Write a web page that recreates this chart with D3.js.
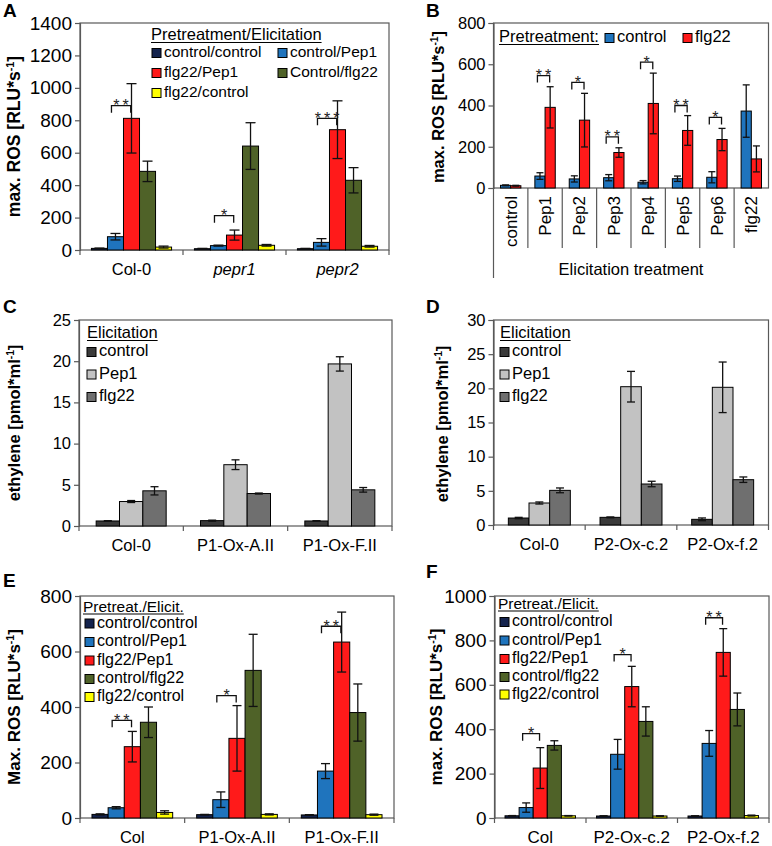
<!DOCTYPE html>
<html><head><meta charset="utf-8">
<script src="https://cdn.jsdelivr.net/npm/d3@7"></script>
<style>body{margin:0;background:#fff}svg{display:block}</style>
</head><body><svg id="c" width="772" height="846"></svg>
<script>
// ---------------- DATA ----------------
const rosSeriesA = ["control/control","control/Pep1","flg22/Pep1","Control/flg22","flg22/control"];
const rosSeriesEF = ["control/control","control/Pep1","flg22/Pep1","control/flg22","flg22/control"];
const rosColors = ["#14234d","#1f74bd","#ff1a1a","#4f6228","#ffff00"];

const catsA = ["Col-0","pepr1","pepr2"];
const valsA = [[10,82,812,485,18],[8,27,92,641,29],[8,47,742,430,23]];
const errA  = [[2,20,214,63,6],[2,3,31,144,5],[2,23,178,78,5]];
const sigA  = [[0,"**",890],[1,"*",212],[2,"***",812]];
const ticksA = [0,200,400,600,800,1000,1200,1400];

const catsB = ["control","Pep1","Pep2","Pep3","Pep4","Pep5","Pep6","flg22"];
const seriesB = ["control","flg22"];
const colorsB = ["#1f74bd","#ff1a1a"];
const ctrlB = [13,58,44,50,28,45,52,373];
const ctrlErrB = [2,16,15,15,8,13,27,127];
const flgB = [11,391,329,172,410,279,235,141];
const flgErrB = [2,100,130,23,147,72,54,63];
const sigB = [[1,"**",545],[2,"*",512],[3,"**",248],[4,"*",610],[5,"**",400],[6,"*",342]];
const ticksB = [0,200,400,600,800];

const ethSeries = ["control","Pep1","flg22"];
const ethColors = ["#3a3a3a","#c2c2c2","#6f6f6f"];
const catsC = ["Col-0","P1-Ox-A.II","P1-Ox-F.II"];
const valsC = [[0.61,2.97,4.27],[0.65,7.44,3.94],[0.61,19.67,4.39]];
const errC  = [[0.04,0.12,0.5],[0.06,0.59,0.06],[0.04,0.87,0.28]];
const ticksC = [0,5,10,15,20,25];
const catsD = ["Col-0","P2-Ox-c.2","P2-Ox-f.2"];
const valsD = [[1.02,3.22,5.07],[1.12,20.24,6.0],[0.83,20.15,6.63]];
const errD  = [[0.1,0.15,0.35],[0.06,2.24,0.4],[0.2,3.7,0.4]];
const ticksD = [0,5,10,15,20,25,30];

const catsE = ["Col","P1-Ox-A.II","P1-Ox-F.II"];
const valsE = [[13,37,257,345,20],[12,66,287,532,13],[11,169,634,380,12]];
const errE  = [[2,4,55,55,6],[1,28,118,130,2],[1,27,108,103,2]];
const sigE  = [[0,"**",352],[1,"*",441],[2,"**",691]];
const ticksE = [0,200,400,600,800];

const catsF = ["Col","P2-Ox-c.2","P2-Ox-f.2"];
const valsF = [[10,47,225,327,10],[9,287,592,435,9],[9,336,746,489,11]];
const errF  = [[1,21,92,21,1],[1,67,91,66,1],[1,58,107,74,2]];
const sigF  = [[0,"*",380],[1,"*",736],[2,"**",902]];
const ticksF = [0,200,400,600,800,1000];

// ---------------- DRAWING ----------------
const FONT = '"Liberation Sans", Arial, Helvetica, sans-serif';
const AX = "#595959";
const svg = d3.select("#c");

function yTitle(x, cy, main, after, fs){
  const t = svg.append("text").attr("transform",`translate(${x},${cy}) rotate(-90)`)
    .attr("text-anchor","middle").attr("font-family",FONT).attr("font-weight","bold").attr("font-size",fs).attr("fill","#000");
  t.append("tspan").text(main);
  t.append("tspan").attr("font-size",fs*0.62).attr("dy",-6).text("-1");
  t.append("tspan").attr("font-size",fs).attr("dy",6).text(after);
}
function letter(l,x,y){
  svg.append("text").attr("x",x).attr("y",y).attr("font-family",FONT).attr("font-weight","bold").attr("font-size",19).text(l);
}

function drawPanel(p){
  const g = svg.append("g");
  const x0 = d3.scaleBand().domain(p.cats).range([p.left,p.right]);
  const gw = x0.bandwidth()*p.groupFrac;
  const off = (x0.bandwidth()-gw)/2;
  const x1 = d3.scaleBand().domain(p.series).range([0,gw]);
  const y = d3.scaleLinear().domain([0,p.yMax]).range([p.bottom,p.top]);
  const bw = x1.bandwidth();
  const cfs = p.catFs || 16.5;
  g.append("rect").attr("x",p.left).attr("y",p.top).attr("width",p.right-p.left).attr("height",p.bottom-p.top)
    .attr("fill","none").attr("stroke",AX).attr("stroke-width",1.2);
  const ya = g.append("g").attr("transform",`translate(${p.left},0)`)
    .call(d3.axisLeft(y).tickValues(p.ticks).tickSize(5).tickPadding(3).tickFormat(d3.format("d")));
  ya.select(".domain").attr("stroke",AX).attr("stroke-width",1.2);
  ya.selectAll(".tick line").attr("stroke",AX).attr("stroke-width",1.2);
  ya.selectAll(".tick text").attr("font-size",p.tickFs).attr("font-family",FONT).attr("fill","#000");
  const bounds = p.cats.map(c=>x0(c)).concat([p.right]);
  if(!p.rotated){
    bounds.forEach(bx=>g.append("line").attr("x1",bx).attr("x2",bx).attr("y1",p.bottom).attr("y2",p.bottom+5).attr("stroke",AX).attr("stroke-width",1.2));
    p.cats.forEach((c,i)=>{
      g.append("text").attr("x",x0(c)+x0.bandwidth()/2).attr("y",p.bottom+25).attr("text-anchor","middle")
        .attr("font-family",FONT).attr("font-size",cfs).attr("font-style",p.italic && p.italic[i]?"italic":"normal").text(c);
    });
  } else {
    bounds.slice(1,-1).forEach(bx=>g.append("line").attr("x1",bx).attr("x2",bx).attr("y1",p.bottom).attr("y2",p.sepBottom).attr("stroke",AX).attr("stroke-width",1.2));
    g.append("line").attr("x1",p.left).attr("x2",p.left).attr("y1",p.bottom).attr("y2",p.outerBottom).attr("stroke",AX).attr("stroke-width",1.2);
    p.cats.forEach((c)=>{
      const cx = x0(c)+x0.bandwidth()/2+6;
      g.append("text").attr("transform",`translate(${cx},${p.bottom+8}) rotate(-90)`).attr("text-anchor","end")
        .attr("font-family",FONT).attr("font-size",17).text(c);
    });
    g.append("text").attr("x",(p.left+p.right)/2).attr("y",p.outerBottom-3).attr("text-anchor","middle")
      .attr("font-family",FONT).attr("font-size",16.5).text(p.outerLabel);
  }
  p.cats.forEach((c,i)=>{
    p.series.forEach((s,j)=>{
      const v = p.vals[i][j], e = p.errs[i][j];
      const bx = x0(c)+off+x1(s);
      g.append("rect").attr("x",bx).attr("y",y(v)).attr("width",bw).attr("height",y(0)-y(v))
        .attr("fill",p.colors[j]).attr("stroke","#000").attr("stroke-width",1);
      const cx = bx+bw/2, cw = p.capW/2;
      const eg = g.append("g").attr("stroke","#111").attr("stroke-width",1.3);
      eg.append("line").attr("x1",cx).attr("x2",cx).attr("y1",y(v+e)).attr("y2",y(Math.max(0,v-e)));
      eg.append("line").attr("x1",cx-cw).attr("x2",cx+cw).attr("y1",y(v+e)).attr("y2",y(v+e));
      eg.append("line").attr("x1",cx-cw).attr("x2",cx+cw).attr("y1",y(Math.max(0,v-e))).attr("y2",y(Math.max(0,v-e)));
    });
  });
  (p.sig||[]).forEach(([ci,lab,lev])=>{
    const c = p.cats[ci];
    const xa = x0(c)+off+x1(p.series[p.sigPair[0]])+bw*0.25;
    const xb = x0(c)+off+x1(p.series[p.sigPair[1]])+bw*0.45;
    const yy = y(lev);
    g.append("path").attr("d",`M${xa},${yy+7}V${yy}H${xb}V${yy+7}`).attr("fill","none").attr("stroke","#111").attr("stroke-width",1.3);
    g.append("text").attr("x",(xa+xb)/2+1.5).attr("y",yy+5.5).attr("text-anchor","middle").attr("letter-spacing",3)
      .attr("font-family",FONT).attr("font-size",16).attr("fill","#222").text(lab);
  });
}

function legendTitle(txt,x,y,fs){
  const t = svg.append("text").attr("x",x).attr("y",y).attr("font-family",FONT).attr("font-size",fs).text(txt);
  const w = t.node().getComputedTextLength();
  svg.append("line").attr("x1",x).attr("x2",x+w).attr("y1",y+2.5).attr("y2",y+2.5).attr("stroke","#000").attr("stroke-width",1.1);
}
function legendItem(txt,color,x,y,fs,sq){
  svg.append("rect").attr("x",x).attr("y",y-sq+0.5).attr("width",sq).attr("height",sq).attr("fill",color).attr("stroke","#000").attr("stroke-width",1);
  svg.append("text").attr("x",x+sq+3).attr("y",y).attr("font-family",FONT).attr("font-size",fs).text(txt);
}

// Panel A
drawPanel({left:80,right:389,top:23,bottom:250,yMax:1400,ticks:ticksA,tickFs:19,cats:catsA,series:rosSeriesA,colors:rosColors,
  vals:valsA,errs:errA,groupFrac:0.778,capW:10,sig:sigA,sigPair:[1,2],italic:[false,true,true],catFs:16.5});
letter("A",3,17);
yTitle(20,136.5,"max. ROS [RLU*s","]",17.5);
legendTitle("Pretreatment/Elicitation",151,40,16.5);
[[0,152,57],[1,278,57],[2,152,77],[3,278,77],[4,152,97]].forEach(([k,x,y])=>legendItem(rosSeriesA[k],rosColors[k],x,y,15.5,9));

// Panel B
const valsB = catsB.map((c,i)=>[ctrlB[i],flgB[i]]);
const errsB = catsB.map((c,i)=>[ctrlErrB[i],flgErrB[i]]);
drawPanel({left:493.5,right:768.5,top:23,bottom:188,yMax:800,ticks:ticksB,tickFs:16.5,cats:catsB,series:seriesB,colors:colorsB,
  vals:valsB,errs:errsB,groupFrac:0.593,capW:7,sig:sigB,sigPair:[0,1],rotated:true,sepBottom:248,outerBottom:278,outerLabel:"Elicitation treatment"});
letter("B",426,17);
yTitle(444,107,"max. ROS [RLU*s","]",16.5);
legendTitle("Pretreatment:",499,42,16.5);
legendItem("control",colorsB[0],605,42,16.5,9);
legendItem("flg22",colorsB[1],683,42,16.5,9);

// Panel C
drawPanel({left:79,right:392,top:320,bottom:526,yMax:25,ticks:ticksC,tickFs:16.5,cats:catsC,series:ethSeries,colors:ethColors,
  vals:valsC,errs:errC,groupFrac:0.671,capW:8});
letter("C",3,313);
yTitle(20,423,"ethylene [pmol*ml","]",16.5);
legendTitle("Elicitation",87,338,16.5);
ethSeries.forEach((s,k)=>legendItem(s,ethColors[k],87,[356,378.5,401][k],16.5,9));

// Panel D
drawPanel({left:493.5,right:768.5,top:320,bottom:525,yMax:30,ticks:ticksD,tickFs:16.5,cats:catsD,series:ethSeries,colors:ethColors,
  vals:valsD,errs:errD,groupFrac:0.676,capW:8});
letter("D",426,313);
yTitle(448,424,"ethylene [pmol*ml","]",16.5);
legendTitle("Elicitation",500,338,16.5);
ethSeries.forEach((s,k)=>legendItem(s,ethColors[k],500,[356,378.5,401][k],16.5,9));

// Panel E
drawPanel({left:80,right:394,top:596,bottom:818,yMax:800,ticks:ticksE,tickFs:19,cats:catsE,series:rosSeriesEF,colors:rosColors,
  vals:valsE,errs:errE,groupFrac:0.771,capW:9,sig:sigE,sigPair:[1,2],catFs:16.5});
letter("E",3,587);
yTitle(20,707,"Max. ROS [RLU*s","]",17);
legendTitle("Pretreat./Elicit.",83,611.5,15.5);
rosSeriesEF.forEach((s,k)=>legendItem(s,rosColors[k],85,[627.5,646,664.5,683,701][k],16,9));

// Panel F
drawPanel({left:494.5,right:769,top:596,bottom:818,yMax:1000,ticks:ticksF,tickFs:19,cats:catsF,series:rosSeriesEF,colors:rosColors,
  vals:valsF,errs:errF,groupFrac:0.77,capW:8,sig:sigF,sigPair:[1,2],catFs:17});
letter("F",426,578);
yTitle(442,707,"max. ROS [RLU*s","]",17);
legendTitle("Pretreat./Elicit.",498,608.5,15.5);
rosSeriesEF.forEach((s,k)=>legendItem(s,rosColors[k],500,[626,644.5,663,681,698.5][k],16,9));
</script></body></html>
